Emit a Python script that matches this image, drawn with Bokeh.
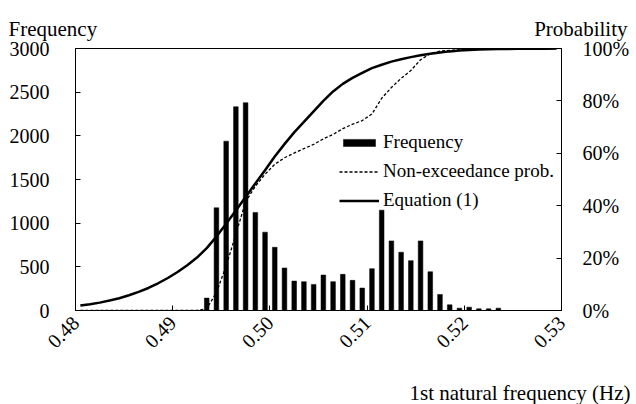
from bokeh.plotting import figure
from bokeh.layouts import column
from bokeh.models import (Range1d, LinearAxis, FixedTicker, PrintfTickFormatter,
                          NumeralTickFormatter, Legend, LegendItem, ColumnDataSource,
                          Label, Div)
from bokeh.core.enums import CoordinateUnits
from bokeh.embed import file_html
from bokeh.resources import INLINE
import math

# ---------------- data ----------------
bar_x = [0.4935, 0.4945, 0.4955, 0.4965, 0.4975, 0.4985, 0.4995, 0.5005, 0.5015, 0.5025,
         0.5035, 0.5045, 0.5055, 0.5065, 0.5075, 0.5085, 0.5095, 0.5105, 0.5115, 0.5125,
         0.5135, 0.5145, 0.5155, 0.5165, 0.5175, 0.5185, 0.5195, 0.5205, 0.5215, 0.5225,
         0.5235]
frequency = [142, 1176, 1939, 2333, 2379, 1123, 897, 724, 487, 337,
             330, 299, 406, 330, 414, 345, 257, 479, 1149, 797,
             667, 571, 797, 444, 184, 65, 27, 38, 19, 19,
             27]

curve_x = [0.4805, 0.4815, 0.4825, 0.4835, 0.4845, 0.4855, 0.4865, 0.4875, 0.4885, 0.4895,
           0.4905, 0.4915, 0.4925, 0.4935, 0.4945, 0.4955, 0.4965, 0.4975, 0.4985, 0.4995,
           0.5005, 0.5015, 0.5025, 0.5035, 0.5045, 0.5055, 0.5065, 0.5075, 0.5085, 0.5095,
           0.5105, 0.5115, 0.5125, 0.5135, 0.5145, 0.5155, 0.5165, 0.5175, 0.5185, 0.5195,
           0.5205, 0.5215, 0.5225, 0.5235, 0.5245, 0.5255, 0.5265, 0.5275, 0.5285, 0.5295]
non_exceedance = [0, 0, 0, 0, 0, 0, 0, 0, 0, 0,
                  0, 0, 0, 0.007, 0.069, 0.170, 0.291, 0.415, 0.474, 0.520,
                  0.558, 0.583, 0.601, 0.618, 0.634, 0.655, 0.672, 0.694, 0.711, 0.725,
                  0.750, 0.810, 0.851, 0.886, 0.916, 0.957, 0.980, 0.990, 0.993, 0.995,
                  0.997, 0.998, 0.999, 1.0, 1.0, 1.0, 1.0, 1.0, 1.0, 1.0]
equation1 = [0.019, 0.024, 0.030, 0.038, 0.047, 0.058, 0.071, 0.086, 0.104, 0.124,
             0.147, 0.173, 0.202, 0.238, 0.282, 0.331, 0.382, 0.433, 0.485, 0.535,
             0.588, 0.635, 0.680, 0.720, 0.760, 0.800, 0.836, 0.865, 0.888, 0.907,
             0.925, 0.938, 0.950, 0.959, 0.967, 0.974, 0.980, 0.985, 0.989, 0.992,
             0.994, 0.996, 0.997, 0.998, 0.9985, 0.999, 0.999, 0.9995, 0.9995, 1.0]

x_ticks = [0.48, 0.49, 0.50, 0.51, 0.52, 0.53]
freq_ticks = [0, 500, 1000, 1500, 2000, 2500, 3000]
prob_ticks = [0, 0.2, 0.4, 0.6, 0.8, 1.0]

left_title = "Frequency"
right_title = "Probability"
x_title = "1st natural frequency (Hz)"

FONT = "Liberation Serif"
FS = "20px"
W, H = 636, 404

HAS_CANVAS = "canvas" in CoordinateUnits

p = figure(width=W, height=H if HAS_CANVAS else 326, output_backend="svg",
           toolbar_location=None,
           x_range=Range1d(0.48, 0.53), y_range=Range1d(0, 3000))
p.extra_y_ranges = {"prob": Range1d(0, 1)}
p.min_border_left = 75
p.min_border_right = 75
p.min_border_top = 48 if HAS_CANVAS else 8
p.min_border_bottom = 94 if HAS_CANVAS else 56
p.xgrid.visible = False
p.ygrid.visible = False
p.outline_line_color = "black"
p.outline_line_width = 1

# bars
bars = p.vbar(x=bar_x, top=frequency, width=0.00048, bottom=0,
              fill_color="black", line_color="black", line_width=0.5)

# curves
src = ColumnDataSource(dict(x=curve_x, ne=non_exceedance, eq=equation1))
ne_line = p.line("x", "ne", source=src, y_range_name="prob",
                 line_color="black", line_width=1.3, line_dash="3 2")
eq_line = p.line("x", "eq", source=src, y_range_name="prob",
                 line_color="black", line_width=2.5)

legend = Legend(items=[LegendItem(label="Frequency", renderers=[bars]),
                       LegendItem(label="Non-exceedance prob.", renderers=[ne_line]),
                       LegendItem(label="Equation (1)", renderers=[eq_line])],
                location=(264, 99), orientation="vertical")
legend.glyph_width = 40
legend.glyph_height = 9
legend.label_height = 20
legend.spacing = 7
legend.padding = 0
legend.margin = 0
legend.label_standoff = 4
legend.label_text_font = FONT
legend.label_text_font_size = "19px"
legend.label_text_color = "black"
legend.border_line_alpha = 0
legend.background_fill_alpha = 0
p.add_layout(legend)

# axes
xa = p.xaxis[0]
xa.ticker = FixedTicker(ticks=x_ticks)
xa.formatter = PrintfTickFormatter(format="%.2f")
xa.major_label_orientation = math.pi / 4
xa.major_label_standoff = 9

ya = p.yaxis[0]
ya.ticker = FixedTicker(ticks=freq_ticks)
ya.major_label_standoff = 26

ra = LinearAxis(y_range_name="prob", ticker=FixedTicker(ticks=prob_ticks),
                formatter=NumeralTickFormatter(format="0%"))
ra.major_label_standoff = 21
p.add_layout(ra, "right")

for ax in (xa, ya, ra):
    ax.axis_line_color = "black"
    ax.major_tick_line_color = "black"
    ax.major_tick_in = 5
    ax.major_tick_out = 0
    ax.minor_tick_in = 0
    ax.minor_tick_out = 0
    ax.major_label_text_font = FONT
    ax.major_label_text_font_size = FS
    ax.major_label_text_color = "black"

if HAS_CANVAS:
    for txt, xx, yy, align, side in [(left_title, 8, 28, "left", "above"),
                                     (right_title, 627, 28, "right", "above"),
                                     (x_title, 630, 392, "right", "below")]:
        lab = Label(x=xx, y=yy, x_units="canvas", y_units="canvas", text=txt,
                    text_font=FONT, text_font_size="21px", text_color="black",
                    text_align=align, text_baseline="alphabetic")
        p.add_layout(lab, side)
    root = p
else:
    css = "font-family:'Liberation Serif';font-size:21px;color:black;position:relative;"
    top = Div(width=W, height=40, text=(
        f'<div style="{css}width:{W}px;height:40px">'
        f'<span style="position:absolute;left:8px;top:8px">{left_title}</span>'
        f'<span style="position:absolute;right:9px;top:8px">{right_title}</span></div>'))
    bottom = Div(width=W, height=38, text=(
        f'<div style="{css}width:{W}px;height:38px">'
        f'<span style="position:absolute;right:6px;top:8px">{x_title}</span></div>'))
    root = column(top, p, bottom, spacing=0)

open("out.html", "w").write(file_html(root, INLINE))
